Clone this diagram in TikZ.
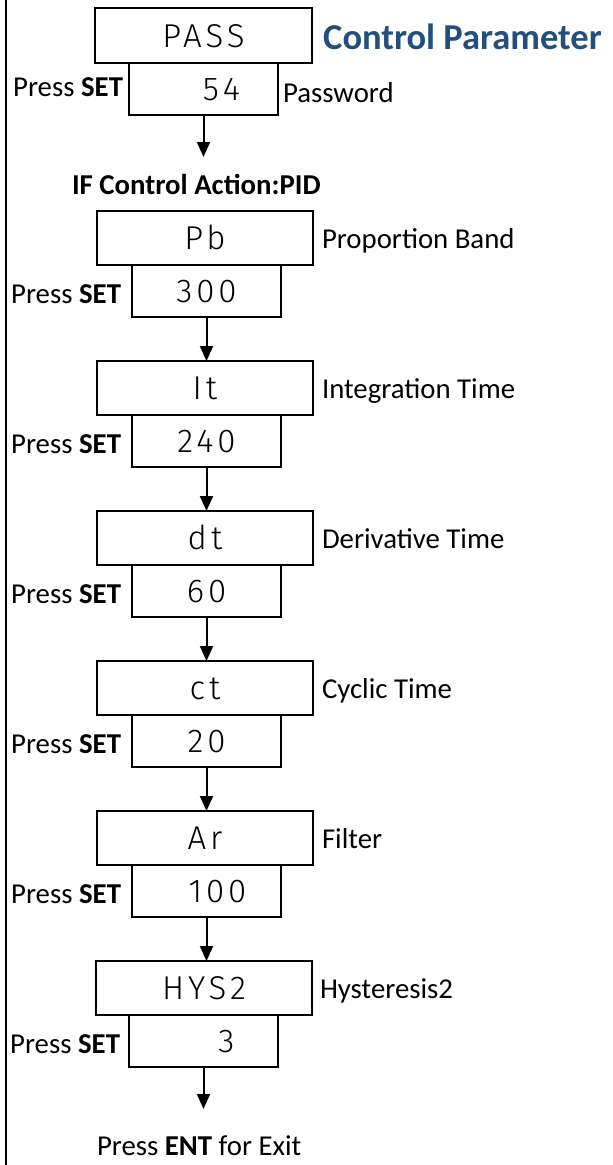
\documentclass[tikz,border=0pt]{standalone}
\usepackage{fontspec}
\setmainfont{Carlito}
\newfontfamily\segfont{Fira Sans Light}[LetterSpace=12]
\usetikzlibrary{arrows.meta}
\definecolor{titleblue}{RGB}{34,79,125}
\begin{document}
\begin{tikzpicture}[x=1pt,y=-1pt,
  topbox/.style={draw, line width=1.6pt, minimum width=216pt, minimum height=54pt,
    inner sep=0pt, outer sep=0pt, anchor=north west,
    font=\segfont\fontsize{33}{33}\selectfont, text height=23pt, text depth=0pt},
  valbox/.style={topbox, minimum width=149pt, minimum height=52pt},
  lbl/.style={font=\fontsize{28.8}{34}\selectfont, inner sep=0pt, outer sep=0pt},
  flow/.style={line width=2pt, -{Triangle[width=13pt,length=15pt]}},
]
\useasboundingbox (0,0) rectangle (613,1165);
% left rule
\coordinate (ltop) at (6,0);
\coordinate (lbot) at (6,1165);
\draw[line width=2pt] (ltop) -- (lbot);

% title
\node[font=\bfseries\fontsize{36.5}{40}\selectfont, text=titleblue, inner sep=0pt, anchor=base west] (title) at (323,49) {Control Parameter};

% password
\node[topbox, minimum width=217pt, minimum height=55pt] (t0) at (95,8) {PASS};
\node[valbox] (v0) at (129,63) {\hspace*{36pt}54};
\node[lbl, anchor=base east] (p0) at (123,96) {Press \textbf{SET}};
\node[lbl, anchor=base west] (l0) at (283,102) {Password};
\path (v0.south) ++(0,42) coordinate (e0);
\draw[flow] (v0.south) -- (e0);

\node[lbl, font=\bfseries\fontsize{28.8}{34}\selectfont, anchor=base west] (ifpid) at (72,194) {IF Control Action:PID};

% row 1
\node[topbox] (t1) at (97,211) {Pb};
\node[valbox] (v1) at (132,265) {300};
\node[lbl, anchor=base east] (p1) at (121,303) {Press \textbf{SET}};
\node[lbl, anchor=base west] (l1) at (322,248) {Proportion Band};

% row 2
\node[topbox] (t2) at (97,361) {It};
\node[valbox] (v2) at (132,415) {240};
\node[lbl, anchor=base east] (p2) at (121,453) {Press \textbf{SET}};
\node[lbl, anchor=base west] (l2) at (322,398) {Integration Time};

% row 3
\node[topbox] (t3) at (97,511) {dt};
\node[valbox] (v3) at (132,565) {60};
\node[lbl, anchor=base east] (p3) at (121,603) {Press \textbf{SET}};
\node[lbl, anchor=base west] (l3) at (322,548) {Derivative Time};

% row 4
\node[topbox] (t4) at (97,661) {ct};
\node[valbox] (v4) at (132,715) {20};
\node[lbl, anchor=base east] (p4) at (121,753) {Press \textbf{SET}};
\node[lbl, anchor=base west] (l4) at (322,698) {Cyclic Time};

% row 5
\node[topbox] (t5) at (97,811) {Ar};
\node[valbox] (v5) at (132,865) {\hspace*{22pt}100};
\node[lbl, anchor=base east] (p5) at (121,903) {Press \textbf{SET}};
\node[lbl, anchor=base west] (l5) at (322,848) {Filter};

% row 6
\node[topbox] (t6) at (96,961) {HYS2};
\node[valbox] (v6) at (129,1015) {\hspace*{46pt}3};
\node[lbl, anchor=base east] (p6) at (120,1053) {Press \textbf{SET}};
\node[lbl, anchor=base west] (l6) at (320,998) {Hysteresis2};
\path (v6.south) ++(0,42) coordinate (e6);

% connectors
\draw[flow] (v1.south) -- (v1.south |- t2.north);
\draw[flow] (v2.south) -- (v2.south |- t3.north);
\draw[flow] (v3.south) -- (v3.south |- t4.north);
\draw[flow] (v4.south) -- (v4.south |- t5.north);
\draw[flow] (v5.south) -- (v5.south |- t6.north);
\draw[flow] (v6.south) -- (e6);

\node[lbl, anchor=base west] (exit) at (97,1155) {Press \textbf{ENT} for Exit};
\end{tikzpicture}
\end{document}
